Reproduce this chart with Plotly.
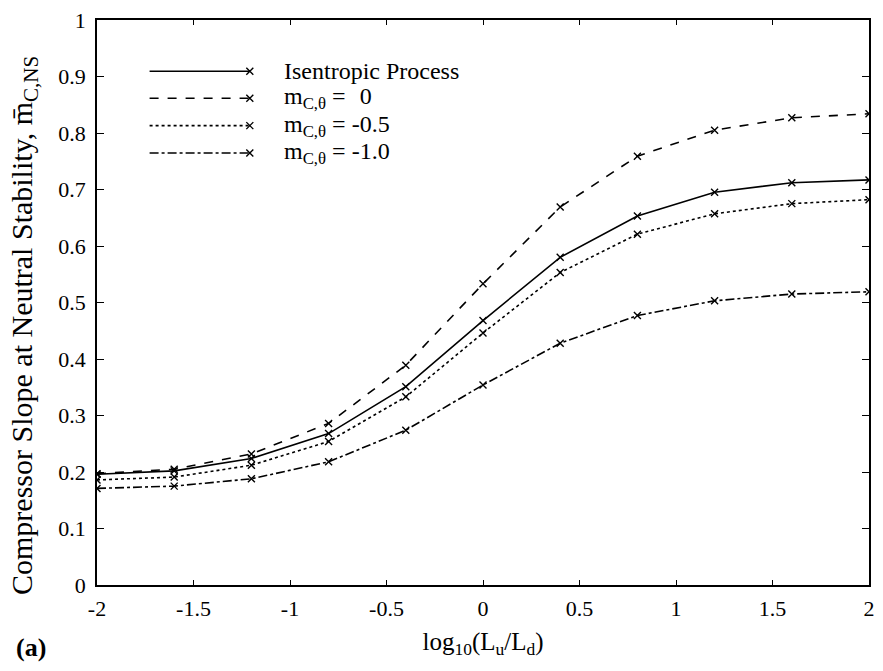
import plotly.graph_objects as go

x_vals = [-2, -1.6, -1.2, -0.8, -0.4, 0, 0.4, 0.8, 1.2, 1.6, 2]
isentropic = [0.196, 0.202, 0.224, 0.268, 0.351, 0.468, 0.580, 0.653, 0.695, 0.712, 0.717]
m_0 = [0.197, 0.205, 0.232, 0.286, 0.389, 0.533, 0.669, 0.759, 0.805, 0.827, 0.834]
m_05 = [0.186, 0.191, 0.212, 0.254, 0.333, 0.446, 0.553, 0.621, 0.657, 0.675, 0.682]
m_10 = [0.171, 0.175, 0.188, 0.218, 0.274, 0.354, 0.428, 0.477, 0.503, 0.515, 0.519]

series_names = ["Isentropic Process", "m<sub>C,θ</sub> = \u20040",
                "m<sub>C,θ</sub> = -0.5", "m<sub>C,θ</sub> = -1.0"]
series_vals = [isentropic, m_0, m_05, m_10]
dashes = ["solid", "dash", "dot", "dashdot"]

x_ticks = [-2, -1.5, -1, -0.5, 0, 0.5, 1, 1.5, 2]
x_tick_text = ["-2", "-1.5", "-1", "-0.5", "0", "0.5", "1", "1.5", "2"]
y_ticks = [0, 0.1, 0.2, 0.3, 0.4, 0.5, 0.6, 0.7, 0.8, 0.9, 1]
y_tick_text = ["0", "0.1", "0.2", "0.3", "0.4", "0.5", "0.6", "0.7", "0.8", "0.9", "1"]

FONT = "Liberation Serif"

# figure fills the whole 883x671 window (body margin removed below)
W, H = 883, 671
# plot area on screen: x 97..875, y 18.5..585.5
ML, MR, MT, MB = 97, 8, 18.5, 85.5
PW, PH = W - ML - MR, H - MT - MB


def px(sx):
    return (sx - ML) / PW


def py(sy):
    return (H - MB - sy) / PH


fig = go.Figure()
for name, vals, d in zip(series_names, series_vals, dashes):
    fig.add_trace(go.Scatter(
        x=x_vals, y=vals, name=name, mode="lines+markers",
        line=dict(color="black", width=1.6, dash=d),
        marker=dict(symbol="x-thin-open", size=7, color="black",
                    line=dict(color="black", width=1.4)),
        showlegend=False, hoverinfo="skip",
    ))

# legend key (MATLAB style: marker at the right end of the sample line)
shapes = []
annotations = []
legend_rows_px = [70, 97, 124.5, 152]
key_x0, key_x1, text_x = 150, 251, 283
for name, d, ry in zip(series_names, dashes, legend_rows_px):
    shapes.append(dict(type="line", xref="paper", yref="paper",
                       x0=px(key_x0), x1=px(key_x1), y0=py(ry), y1=py(ry),
                       line=dict(color="black", width=1.6, dash=d)))
    shapes.append(dict(type="path", xref="paper", yref="paper",
                       xsizemode="pixel", ysizemode="pixel",
                       xanchor=px(key_x1), yanchor=py(ry),
                       path="M-3.5,-3.5 L3.5,3.5 M-3.5,3.5 L3.5,-3.5",
                       line=dict(color="black", width=1.4)))
    annotations.append(dict(text=name, xref="paper", yref="paper",
                            x=px(text_x), y=py(ry), xanchor="left", yanchor="middle",
                            showarrow=False,
                            font=dict(family=FONT, size=24, color="black")))

# y-axis title
annotations.append(dict(text="Compressor Slope at Neutral Stability, m\u0304<sub>C,NS</sub>",
                        xref="paper", yref="paper", x=px(24), y=py(325),
                        xanchor="center", yanchor="middle", textangle=-90,
                        showarrow=False, font=dict(family=FONT, size=30, color="black")))
# panel label
annotations.append(dict(text="<b>(a)</b>", xref="paper", yref="paper", x=px(30), y=py(648),
                        xanchor="center", yanchor="middle", showarrow=False,
                        font=dict(family=FONT, size=26, color="black")))

axis_common = dict(showline=True, linecolor="black", linewidth=1.5, mirror="ticks",
                   ticks="inside", tickcolor="black", showgrid=False, zeroline=False,
                   tickfont=dict(family=FONT, size=22, color="black"))

fig.update_layout(
    width=W, height=H,
    margin=dict(l=ML, r=MR, t=MT, b=MB, pad=0),
    paper_bgcolor="white", plot_bgcolor="white",
    font=dict(family=FONT, color="black"),
    hovermode=False,
    xaxis=dict(range=[-2, 2], tickvals=x_ticks, ticktext=x_tick_text, ticklen=5,
               ticklabelstandoff=3,
               title=dict(text="log<sub>10</sub>(L<sub>u</sub>/L<sub>d</sub>)",
                          font=dict(family=FONT, size=25, color="black"), standoff=12),
               **axis_common),
    yaxis=dict(range=[0, 1], tickvals=y_ticks, ticktext=y_tick_text, ticklen=7,
               ticklabelstandoff=5, **axis_common),
    showlegend=False,
    shapes=shapes,
    annotations=annotations,
)

fig.write_html("out.html", config={"displayModeBar": False},
               post_script="document.body.style.margin='0';")
